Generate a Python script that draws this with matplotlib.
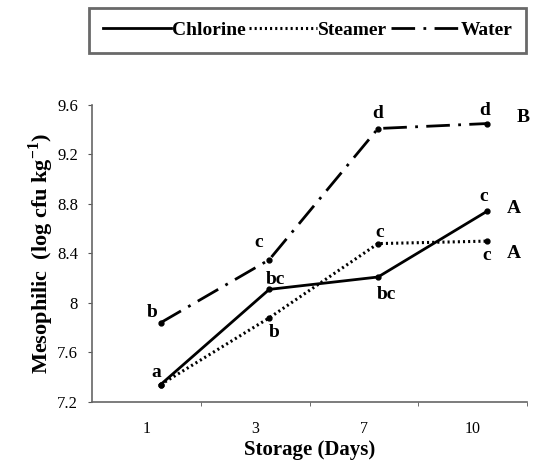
import numpy as np
import matplotlib; matplotlib.use('Agg')
import matplotlib.pyplot as plt

plt.rcParams['font.family'] = ['Liberation Serif', 'DejaVu Serif']
plt.rcParams['mathtext.fontset'] = 'custom'
plt.rcParams['mathtext.rm'] = 'Liberation Serif'
plt.rcParams['mathtext.bf'] = 'Liberation Serif:bold'
plt.rcParams['lines.scale_dashes'] = False

# data
days = ["1", "3", "7", "10"]
chlorine = [7.34, 8.11, 8.21, 8.74]
steamer = [7.34, 7.88, 8.48, 8.50]
water = [7.84, 8.35, 9.41, 9.45]
chl_letters = ["a", "bc", "bc", "c"]
ste_letters = ["", "b", "c", "c"]
wat_letters = ["b", "c", "d", "d"]
groups = {"Chlorine": "A", "Steamer": "A", "Water": "B"}

# letter offsets (pixels) relative to each point
chl_off = [(-4, 12), (6, 10), (8, -17), (-3, 15)]
ste_off = [(0, 0), (5, -15), (2, 11), (0, -14)]
wat_off = [(-8, 10), (-11, 17), (0, 15), (-2, 13)]
grp_off = {"Chlorine": (27, 3), "Steamer": (27, -12), "Water": (36, 6)}

fig = plt.figure(figsize=(5.39, 4.63), dpi=100)
ax = fig.add_axes([92/539, 1-402/463, 435/539, 297/463])

x = np.arange(len(days))
xp = x + 0.13  # points sit a bit right of the category centre, as in the original

l1, = ax.plot(xp, chlorine, color='black', lw=2.0, ls='-', marker='o', ms=3.5)
l2, = ax.plot(xp, steamer, color='black', lw=2.2, ls=(0, (1.5, 2.2)), marker='o', ms=3.5)
l3, = ax.plot(xp, water, color='black', lw=2.0, ls=(0, (17, 6, 2, 6)), marker='o', ms=3.5)

fnt = dict(fontsize=14, fontweight='bold', ha='center', va='center')
for vals, lets, offs in [(chlorine, chl_letters, chl_off), (steamer, ste_letters, ste_off),
                         (water, wat_letters, wat_off)]:
    for i in range(len(days)):
        if lets[i]:
            ax.annotate(lets[i], (xp[i], vals[i]), xytext=offs[i],
                        textcoords='offset pixels', **fnt)
for name, vals in [("Chlorine", chlorine), ("Steamer", steamer), ("Water", water)]:
    ax.annotate(groups[name], (xp[-1], vals[-1]), xytext=grp_off[name],
                textcoords='offset pixels', annotation_clip=False, **fnt)

ax.set_xlim(-0.5, 3.5)
ax.set_ylim(7.2, 9.6)
ax.set_yticks([7.2, 7.6, 8.0, 8.4, 8.8, 9.2, 9.6])
ax.set_yticklabels(["7.2", "7.6", "8", "8.4", "8.8", "9.2", "9.6"])
ax.set_xticks(x)
ax.set_xticklabels(days)
ax.set_xticks([0.5, 1.5, 2.5, 3.5], minor=True)
ax.tick_params(axis='x', which='major', length=0, pad=14, labelsize=11.5)
ax.tick_params(axis='x', which='minor', length=3, color='#555')
ax.tick_params(axis='y', length=3, color='#555', labelsize=12, pad=7)
for s in ['top', 'right']:
    ax.spines[s].set_visible(False)
for s in ['left', 'bottom']:
    ax.spines[s].set_color('#666')
    ax.spines[s].set_linewidth(1.2)

ax.set_xlabel("Storage (Days)", fontsize=15, fontweight='bold', labelpad=2)
ax.set_ylabel("Mesophilic  (log cfu kg$^{\\mathbf{-1}}$)", fontsize=16, fontweight='bold', labelpad=1)

leg = fig.legend([l1, l2, l3], ["Chlorine", "Steamer", "Water"], ncol=3,
                 loc='upper left', bbox_to_anchor=(89/539, 1-8/463),
                 frameon=True, fancybox=False, edgecolor='#444',
                 prop=dict(size=14, weight='bold'), handlelength=3.5,
                 handletextpad=0.05, columnspacing=0.2, borderpad=0.7,
                 borderaxespad=0)
leg.get_frame().set_linewidth(2)
for h in leg.legend_handles:
    h.set_marker('')

fig.savefig("out.png", dpi=100)
